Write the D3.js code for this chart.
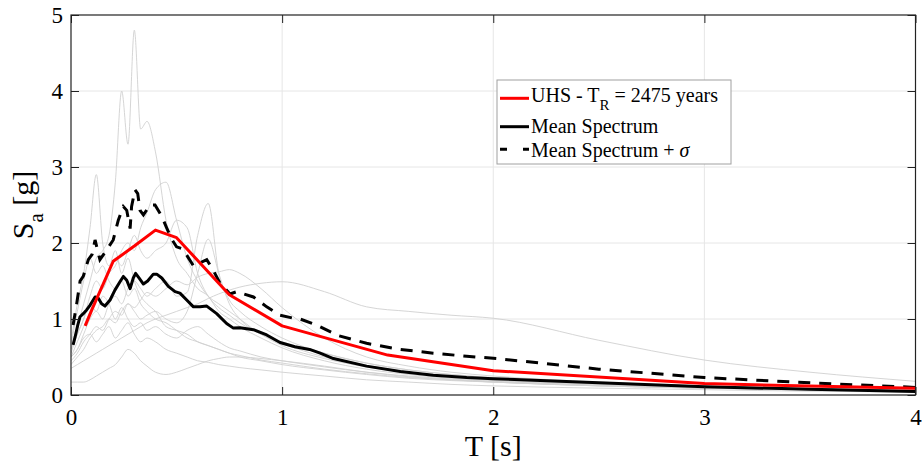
<!DOCTYPE html>
<html>

<head>
    <meta charset="utf-8">
    <title>Response spectra</title>
    <script src="https://cdn.jsdelivr.net/npm/d3@7"></script>
    <style>
        body {
            margin: 0;
            background: #fff;
        }

        svg text {
            font-family: 'Liberation Serif', 'Times New Roman', Times, serif;
            fill: #000;
        }
    </style>
</head>

<body>
    <script>
        // Periods shared by the individual record spectra (s)
        const periods = [0, 0.03, 0.06, 0.09, 0.12, 0.15, 0.18, 0.21, 0.24, 0.27, 0.30, 0.33, 0.36, 0.40, 0.45, 0.5,
            0.55, 0.6, 0.65, 0.7, 0.75, 0.8, 0.9, 1.0, 1.2, 1.4, 1.6, 1.8, 2.0, 2.5, 3.0, 3.5, 4.0];

        // Individual ground motion spectra (g)
        const rec01 = [0.6, 0.9, 1.2, 1.5, 1.8, 1.9, 2.1, 2.8, 4.0, 3.3, 4.8, 3.5, 3.6, 3.2, 2.3, 1.8,
            1.6, 1.4, 1.3, 1.1, 1.0, 0.9, 0.75, 0.62, 0.45, 0.34, 0.27, 0.22, 0.19, 0.13, 0.09, 0.07, 0.05];
        const rec02 = [0.7, 1.2, 1.6, 2.2, 2.9, 2.0, 1.7, 1.9, 1.6, 1.8, 1.5, 1.3, 1.2, 1.1, 0.9, 0.85,
            0.8, 0.7, 0.65, 0.6, 0.55, 0.5, 0.45, 0.4, 0.33, 0.27, 0.22, 0.19, 0.17, 0.12, 0.09, 0.07, 0.05];
        const rec03 = [0.5, 0.7, 0.9, 1.1, 1.3, 1.4, 1.6, 1.7, 1.9, 2.0, 1.9, 2.2, 2.4, 2.7, 2.8, 2.3,
            1.8, 1.5, 1.3, 1.2, 1.1, 1.0, 0.8, 0.7, 0.55, 0.42, 0.33, 0.27, 0.23, 0.16, 0.12, 0.09, 0.07];
        const rec04 = [0.5, 0.6, 0.8, 1.0, 1.1, 1.0, 1.2, 1.3, 1.2, 1.4, 1.5, 1.4, 1.3, 1.4, 1.5, 1.3,
            1.35, 2.1, 2.52, 1.6, 1.25, 1.1, 0.9, 0.75, 0.55, 0.42, 0.33, 0.27, 0.22, 0.15, 0.11, 0.08, 0.06];
        const rec05 = [0.45, 0.55, 0.7, 0.8, 0.9, 0.85, 1.0, 1.1, 1.05, 1.2, 1.1, 1.0, 1.05, 1.1, 1.0, 0.95,
            1.1, 1.6, 2.05, 1.6, 1.2, 1.0, 0.8, 0.65, 0.48, 0.37, 0.3, 0.24, 0.2, 0.14, 0.1, 0.08, 0.06];
        const rec06 = [0.6, 0.8, 1.0, 1.3, 1.5, 1.4, 1.6, 1.8, 1.7, 1.9, 2.1, 1.9, 1.8, 1.9, 2.0, 2.3,
            2.2, 1.6, 1.3, 1.15, 1.05, 0.95, 0.8, 0.68, 0.5, 0.38, 0.3, 0.25, 0.21, 0.15, 0.11, 0.08, 0.06];
        const rec07 = [0.35, 0.4, 0.45, 0.5, 0.55, 0.6, 0.65, 0.7, 0.75, 0.8, 0.85, 0.9, 0.95, 1.0, 1.05, 1.1,
            1.15, 1.2, 1.27, 1.33, 1.38, 1.42, 1.47, 1.49, 1.36, 1.16, 1.1, 1.05, 1.01, 0.72, 0.46, 0.3, 0.18];
        const rec08 = [0.4, 0.5, 0.6, 0.75, 0.85, 0.9, 1.0, 0.95, 1.1, 1.2, 1.15, 1.25, 1.35, 1.3, 1.4, 1.5,
            1.45, 1.55, 1.6, 1.62, 1.65, 1.6, 1.4, 1.15, 0.75, 0.5, 0.38, 0.3, 0.25, 0.17, 0.12, 0.09, 0.07];
        const rec09 = [0.17, 0.17, 0.17, 0.2, 0.25, 0.3, 0.35, 0.4, 0.5, 0.6, 0.55, 0.45, 0.38, 0.3, 0.27, 0.3,
            0.35, 0.4, 0.45, 0.48, 0.5, 0.5, 0.48, 0.45, 0.38, 0.3, 0.24, 0.2, 0.17, 0.12, 0.09, 0.07, 0.05];
        const rec10 = [0.5, 0.6, 0.75, 0.8, 0.7, 0.8, 0.9, 0.75, 0.85, 0.95, 0.8, 0.7, 0.75, 0.7, 0.6, 0.55,
            0.5, 0.45, 0.43, 0.4, 0.38, 0.36, 0.33, 0.3, 0.25, 0.2, 0.17, 0.14, 0.12, 0.09, 0.07, 0.05, 0.04];
        const rec11 = [0.55, 0.8, 1.0, 1.2, 1.1, 1.3, 1.2, 1.0, 1.15, 1.0, 0.9, 0.95, 0.85, 0.9, 0.8, 0.75,
            0.85, 0.9, 0.8, 0.7, 0.62, 0.58, 0.5, 0.45, 0.37, 0.3, 0.25, 0.21, 0.18, 0.13, 0.1, 0.07, 0.05];
        const rec12 = [0.65, 1.1, 1.5, 1.8, 1.6, 1.7, 1.5, 1.4, 1.5, 1.3, 1.4, 1.2, 1.1, 1.0, 0.95, 0.85,
            0.75, 0.7, 0.65, 0.6, 0.55, 0.52, 0.46, 0.42, 0.34, 0.28, 0.23, 0.2, 0.17, 0.12, 0.09, 0.07, 0.05];
        const records = [rec01, rec02, rec03, rec04, rec05, rec06, rec07, rec08, rec09, rec10, rec11, rec12];

        // Uniform hazard spectrum, TR = 2475 years
        const uhsT = [0.067, 0.1, 0.2, 0.3, 0.4, 0.5, 0.75, 1.0, 1.5, 2.0, 3.0, 4.0];
        const uhsSa = [0.91, 1.13, 1.76, 1.96, 2.17, 2.07, 1.32, 0.91, 0.525, 0.32, 0.15, 0.088];

        // Mean spectrum
        const meanT = [0.01, 0.02, 0.032, 0.043, 0.058, 0.074, 0.09, 0.114, 0.13, 0.145, 0.161, 0.185, 0.208,
            0.232, 0.248, 0.264, 0.28, 0.295, 0.306, 0.322, 0.343, 0.363, 0.39, 0.406, 0.43, 0.461, 0.493,
            0.516, 0.548, 0.58, 0.611, 0.643, 0.69, 0.737, 0.769, 0.8, 0.864, 0.927, 0.99, 1.06, 1.13, 1.18,
            1.243, 1.4, 1.56, 1.716, 1.874, 2.0, 2.5, 3.0, 3.5, 4.0];
        const meanSa = [0.66, 0.77, 0.92, 1.03, 1.07, 1.12, 1.18, 1.29, 1.27, 1.2, 1.17, 1.25, 1.38,
            1.49, 1.56, 1.51, 1.40, 1.54, 1.60, 1.54, 1.46, 1.50, 1.59, 1.59, 1.54, 1.43, 1.36,
            1.34, 1.25, 1.16, 1.16, 1.17, 1.07, 0.94, 0.88, 0.885, 0.86, 0.79, 0.69, 0.635, 0.6, 0.55,
            0.48, 0.38, 0.31, 0.26, 0.23, 0.215, 0.16, 0.11, 0.075, 0.045];

        // Mean spectrum + sigma
        const sigmaT = [0.01, 0.027, 0.043, 0.058, 0.082, 0.1, 0.114, 0.137, 0.169, 0.2, 0.224, 0.248, 0.264,
            0.28, 0.287, 0.303, 0.316, 0.327, 0.343, 0.374, 0.398, 0.43, 0.453, 0.477, 0.5, 0.53, 0.58,
            0.643, 0.674, 0.706, 0.753, 0.785, 0.864, 0.927, 0.99, 1.053, 1.085, 1.164, 1.267, 1.4, 1.558,
            1.716, 1.874, 2.016, 2.5, 3.0, 3.5, 4.0];
        const sigmaSa = [0.92, 1.2, 1.5, 1.56, 1.78, 1.85, 2.04, 1.78, 1.91, 2.04, 2.3, 2.48, 2.43,
            2.19, 2.48, 2.70, 2.65, 2.43, 2.37, 2.5, 2.5, 2.35, 2.2, 2.05, 1.95, 1.92, 1.70,
            1.78, 1.64, 1.47, 1.33, 1.36, 1.29, 1.16, 1.05, 1.01, 1.0, 0.92, 0.78, 0.68, 0.60,
            0.55, 0.51, 0.48, 0.34, 0.23, 0.16, 0.10];

        const xTicks = [0, 1, 2, 3, 4];
        const yTicks = [0, 1, 2, 3, 4, 5];

        const serif = 'Liberation Serif';
        const width = 922;
        const height = 466;
        const margin = { top: 15, right: 6.5, bottom: 71, left: 71 };
        const plotW = width - margin.left - margin.right;
        const plotH = height - margin.top - margin.bottom;

        const svg = d3.select('body')
            .append('svg')
            .attr('width', width)
            .attr('height', height)
            .attr('font-family', serif);

        const xScale = d3.scaleLinear().domain([0, 4]).range([margin.left, margin.left + plotW]);
        const yScale = d3.scaleLinear().domain([0, 5]).range([margin.top + plotH, margin.top]);

        // Grid
        svg.append('g')
            .selectAll('line')
            .data(xTicks.slice(1, -1))
            .join('line')
            .attr('x1', d => xScale(d)).attr('x2', d => xScale(d))
            .attr('y1', yScale(0)).attr('y2', yScale(5))
            .attr('stroke', '#e6e6e6');
        svg.append('g')
            .selectAll('line')
            .data(yTicks.slice(1, -1))
            .join('line')
            .attr('y1', d => yScale(d)).attr('y2', d => yScale(d))
            .attr('x1', xScale(0)).attr('x2', xScale(4))
            .attr('stroke', '#e6e6e6');

        svg.append('clipPath').attr('id', 'clip')
            .append('rect')
            .attr('x', margin.left).attr('y', margin.top)
            .attr('width', plotW).attr('height', plotH);

        const plot = svg.append('g').attr('clip-path', 'url(#clip)');

        // Record spectra
        const grayLine = d3.line()
            .x((d, i) => xScale(periods[i]))
            .y(d => yScale(d))
            .curve(d3.curveMonotoneX);

        plot.selectAll('.record')
            .data(records)
            .join('path')
            .attr('class', 'record')
            .attr('d', grayLine)
            .attr('fill', 'none')
            .attr('stroke', '#d0d0d0')
            .attr('stroke-width', 0.9);

        const pairLine = d3.line()
            .x(d => xScale(d[0]))
            .y(d => yScale(d[1]));

        plot.append('path')
            .attr('d', pairLine(d3.zip(meanT, meanSa)))
            .attr('fill', 'none')
            .attr('stroke', '#000')
            .attr('stroke-width', 3)
            .attr('stroke-linejoin', 'round');

        plot.append('path')
            .attr('d', pairLine(d3.zip(sigmaT, sigmaSa)))
            .attr('fill', 'none')
            .attr('stroke', '#000')
            .attr('stroke-width', 3)
            .attr('stroke-dasharray', '12,9');

        plot.append('path')
            .attr('d', pairLine(d3.zip(uhsT, uhsSa)))
            .attr('fill', 'none')
            .attr('stroke', '#ff0000')
            .attr('stroke-width', 3)
            .attr('stroke-linejoin', 'round');

        // Axes (ticks point inward, box around plot)
        const styleAxis = g => {
            g.attr('font-family', serif).attr('font-size', 23);
            g.select('.domain').remove();
            g.selectAll('line').attr('stroke', '#222');
            g.selectAll('text').attr('font-family', serif).attr('fill', '#000');
        };

        svg.append('g')
            .attr('transform', `translate(0, ${yScale(0)})`)
            .call(d3.axisBottom(xScale).tickValues(xTicks).tickFormat(d3.format('d'))
                .tickSizeInner(-8).tickSizeOuter(0).tickPadding(14))
            .call(styleAxis);

        svg.append('g')
            .attr('transform', `translate(${xScale(0)}, 0)`)
            .call(d3.axisLeft(yScale).tickValues(yTicks).tickFormat(d3.format('d'))
                .tickSizeInner(-8).tickSizeOuter(0).tickPadding(8))
            .call(styleAxis);

        svg.append('g')
            .attr('transform', `translate(0, ${yScale(5)})`)
            .call(d3.axisTop(xScale).tickValues(xTicks).tickFormat('').tickSizeInner(-8).tickSizeOuter(0))
            .call(styleAxis);

        svg.append('g')
            .attr('transform', `translate(${xScale(4)}, 0)`)
            .call(d3.axisRight(yScale).tickValues(yTicks).tickFormat('').tickSizeInner(-8).tickSizeOuter(0))
            .call(styleAxis);

        svg.append('rect')
            .attr('x', margin.left).attr('y', margin.top)
            .attr('width', plotW).attr('height', plotH)
            .attr('fill', 'none')
            .attr('stroke', '#222')
            .attr('stroke-width', 1.2);

        // Axis labels
        svg.append('text')
            .attr('x', xScale(2))
            .attr('y', 456)
            .attr('text-anchor', 'middle')
            .attr('font-size', 30)
            .text('T [s]');

        const yLab = svg.append('text')
            .attr('transform', `translate(33, ${yScale(2.5)}) rotate(-90)`)
            .attr('text-anchor', 'middle')
            .attr('font-size', 30);
        yLab.append('tspan').text('S');
        yLab.append('tspan').attr('dy', 10).attr('font-size', 21).text('a');
        yLab.append('tspan').attr('dy', -10).text(' [g]');

        // Legend
        const legend = svg.append('g').attr('font-size', 20);
        legend.append('rect')
            .attr('x', 497).attr('y', 80)
            .attr('width', 234).attr('height', 84)
            .attr('fill', '#fff')
            .attr('stroke', '#a0a0a0')
            .attr('stroke-width', 1);

        const legendRows = [
            { y: 98.3, color: '#ff0000', dash: null },
            { y: 126.7, color: '#000', dash: null },
            { y: 149.3, color: '#000', dash: '7,16' }
        ];
        legend.selectAll('.key')
            .data(legendRows)
            .join('line')
            .attr('class', 'key')
            .attr('x1', 500).attr('x2', 529)
            .attr('y1', d => d.y).attr('y2', d => d.y)
            .attr('stroke', d => d.color)
            .attr('stroke-width', 3)
            .attr('stroke-dasharray', d => d.dash);

        const t1 = legend.append('text').attr('x', 531).attr('y', 102);
        t1.append('tspan').text('UHS - T');
        t1.append('tspan').attr('y', 110).attr('font-size', 15).text('R');
        t1.append('tspan').attr('y', 102).text(' = 2475 years');

        legend.append('text').attr('x', 531).attr('y', 133.3).text('Mean Spectrum');

        const t3 = legend.append('text').attr('x', 531).attr('y', 156.7);
        t3.append('tspan').text('Mean Spectrum + ');
        t3.append('tspan').attr('font-style', 'italic').text('σ');
    </script>
</body>

</html>
